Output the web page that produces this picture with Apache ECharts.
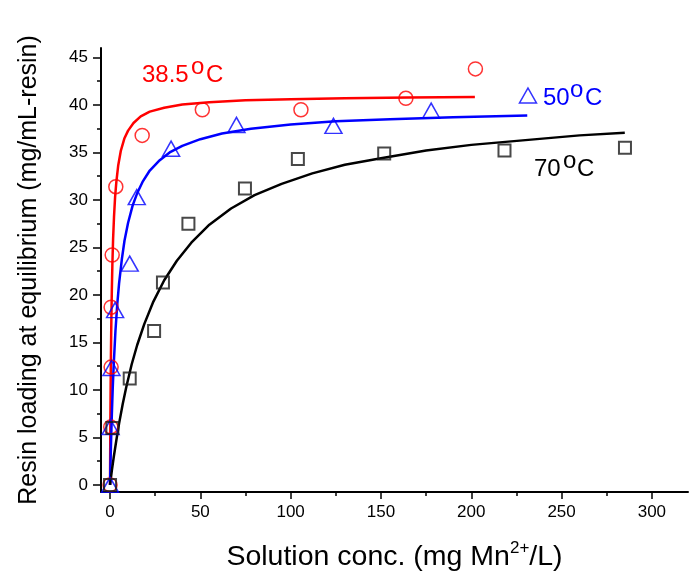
<!DOCTYPE html>
<html><head><meta charset="utf-8">
<script src="https://cdn.jsdelivr.net/npm/echarts@6/dist/echarts.min.js"></script>
<style>html,body{margin:0;padding:0;background:#fff}#c{width:689px;height:578px}</style>
</head><body><div id="c"></div>
<script>
// tick values
const xTicks = [0, 50, 100, 150, 200, 250, 300];
const xMinorTicks = [25, 75, 125, 175, 225, 275];
const yTicks = [0, 5, 10, 15, 20, 25, 30, 35, 40, 45];
const yMinorTicks = [2.5, 7.5, 12.5, 17.5, 22.5, 27.5, 32.5, 37.5, 42.5];

// measured points [conc, loading]
const pts385 = [[0,0],[0.4,6.1],[0.6,12.4],[0.6,18.7],[1.2,24.2],[3.2,31.4],[17.8,36.8],[51.1,39.5],[105.7,39.5],[163.8,40.7],[202.3,43.8]];
const pts50 = [[0,0],[0.3,6.1],[0.8,12.3],[2.8,18.4],[10.9,23.3],[14.8,30.3],[33.8,35.4],[70,37.9],[123.7,37.8],[177.8,39.4],[231.4,41.0]];
const pts70 = [[0,0],[1.3,6.0],[10.9,11.2],[24.4,16.2],[29.3,21.3],[43.4,27.5],[74.7,31.2],[104,34.3],[151.8,34.9],[218.4,35.2],[285.1,35.5]];

// fitted curves
const fit385 = [[0,0],[0.1,3.7],[0.2,6.8],[0.35,10.6],[0.5,13.7],[0.75,17.6],[1,20.5],[1.3,23.2],[1.7,25.9],[2.2,28.2],[2.8,30.3],[3.5,31.9],[4.5,33.6],[6,35.2],[8,36.5],[10,37.3],[13,38.1],[17,38.8],[22,39.3],[30,39.7],[40,40.05],[55,40.3],[75,40.5],[100,40.6],[130,40.7],[165,40.8],[202,40.85]];
const fit50 = [[0,0],[0.25,2.2],[0.5,4.1],[1,7.4],[1.5,10.2],[2,12.5],[3,16.2],[4,19.0],[5,21.2],[6.5,23.7],[8,25.7],[10,27.6],[12.5,29.4],[15,30.7],[18,31.9],[22,33.1],[27,34.1],[33,35.0],[40,35.7],[50,36.4],[62,37.0],[78,37.5],[100,37.95],[125,38.3],[155,38.5],[190,38.7],[231,38.9]];
const fit70 = [[0,0],[1,1.5],[2,2.85],[3.5,4.7],[5,6.45],[7,8.5],[9,10.3],[12,12.7],[15,14.7],[19,16.95],[24,19.3],[30,21.55],[37,23.6],[45,25.5],[55,27.4],[67,29.1],[80,30.5],[95,31.7],[112,32.8],[130,33.7],[150,34.4],[175,35.2],[200,35.8],[230,36.3],[260,36.8],[285,37.07]];

const FONT = '"Liberation Sans", Arial, sans-serif';
const chart = echarts.init(document.getElementById('c'), null, {renderer: 'canvas'});

const gridRect = {left: 101, right: 1, top: 48, bottom: 86, containLabel: false, outerBoundsMode: 'none'};

function txt(s, x, y, color) {
  return {type: 'text', x: x, y: y, z: 100,
    style: {text: s, fill: color, font: '24px ' + FONT, align: 'left', verticalAlign: 'middle'}};
}
function tempLabel(num, numX, oX, cX, y, color) {
  return [txt(num, numX, y, color), txt('o', oX, y - 8, color), txt('C', cX, y, color)];
}

chart.setOption({
  animation: false,
  backgroundColor: '#fff',
  grid: [Object.assign({}, gridRect), Object.assign({}, gridRect)],
  xAxis: [{
    type: 'value', gridIndex: 0, min: -5, max: 320, position: 'bottom',
    axisLine: {show: true, onZero: false, lineStyle: {color: '#000', width: 2}},
    axisTick: {show: true, customValues: xTicks, length: 7, lineStyle: {color: '#000', width: 1.5}},
    axisLabel: {customValues: xTicks, fontSize: 17, fontFamily: FONT, color: '#000', margin: 12},
    splitLine: {show: false},
    name: '{a|Solution conc. (mg Mn}{b|2+}{a|/L)}',
    nameLocation: 'middle', nameGap: 48, nameMoveOverlap: false,
    nameTextStyle: {
      color: '#000',
      rich: {
        a: {fontSize: 28.5, fontFamily: FONT, color: '#000', lineHeight: 32, verticalAlign: 'bottom'},
        b: {fontSize: 17, fontFamily: FONT, color: '#000', lineHeight: 18, verticalAlign: 'top'}
      }
    }
  }, {
    type: 'value', gridIndex: 1, min: -5, max: 320, position: 'bottom',
    axisLine: {show: false, onZero: false},
    axisTick: {show: true, customValues: xMinorTicks, length: 4, lineStyle: {color: '#000', width: 1.5}},
    axisLabel: {show: false},
    splitLine: {show: false}
  }],
  yAxis: [{
    type: 'value', gridIndex: 0, min: -0.75, max: 46, position: 'left',
    axisLine: {show: true, onZero: false, lineStyle: {color: '#000', width: 2}},
    axisTick: {show: true, customValues: yTicks, length: 8, lineStyle: {color: '#000', width: 1.5}},
    axisLabel: {customValues: yTicks, fontSize: 17, fontFamily: FONT, color: '#000', margin: 13},
    splitLine: {show: false},
    name: 'Resin loading at equilibrium (mg/mL-resin)',
    nameLocation: 'middle', nameGap: 59, nameRotate: 90, nameMoveOverlap: false,
    nameTextStyle: {fontSize: 25, fontFamily: FONT, color: '#000'}
  }, {
    type: 'value', gridIndex: 1, min: -0.75, max: 46, position: 'left',
    axisLine: {show: false, onZero: false},
    axisTick: {show: true, customValues: yMinorTicks, length: 4, lineStyle: {color: '#000', width: 1.5}},
    axisLabel: {show: false},
    splitLine: {show: false}
  }],
  series: [
    {type: 'line', data: fit385, showSymbol: false, smooth: false, lineStyle: {color: '#ff0000', width: 2.5}, z: 2},
    {type: 'line', data: fit50, showSymbol: false, smooth: false, lineStyle: {color: '#0000ff', width: 2.5}, z: 2},
    {type: 'line', data: fit70, showSymbol: false, smooth: false, lineStyle: {color: '#000', width: 2.5}, z: 2},
    {type: 'scatter', data: pts385, symbol: 'circle', symbolSize: 14, itemStyle: {color: 'rgba(0,0,0,0)', borderColor: '#ff0000', borderWidth: 1.5}, z: 3},
    {type: 'scatter', data: pts50, symbol: 'triangle', symbolSize: [17, 15], itemStyle: {color: 'rgba(0,0,0,0)', borderColor: '#0000ff', borderWidth: 1.5}, z: 4},
    {type: 'scatter', data: pts70, symbol: 'rect', symbolSize: 12, itemStyle: {color: 'rgba(0,0,0,0)', borderColor: '#1a1a1a', borderWidth: 2}, z: 5}
  ],
  graphic: [].concat(
    tempLabel('38.5', 142, 191, 206, 75, '#ff0000'),
    tempLabel('50', 543, 570, 585, 98, '#0000ff'),
    tempLabel('70', 534, 563, 577, 169, '#000000')
  )
});
</script></body></html>
